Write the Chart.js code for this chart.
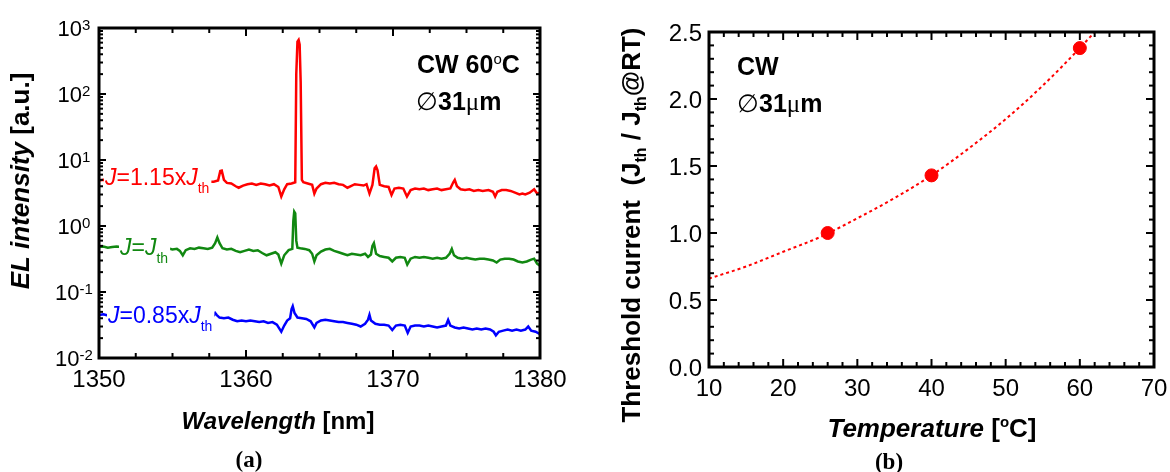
<!DOCTYPE html>
<html>
<head>
<meta charset="utf-8">
<script src="https://cdn.jsdelivr.net/npm/chart.js@4"></script>
<style>
  html, body { margin: 0; padding: 0; background: #fff; }
  #wrap { position: relative; width: 1170px; height: 472px; overflow: hidden; }
  canvas { position: absolute; top: 0; }
  #chartA { left: 0; }
  #chartB { left: 585px; }
</style>
</head>
<body>
<div id="wrap">
  <canvas id="chartA" width="585" height="472"></canvas>
  <canvas id="chartB" width="585" height="472"></canvas>
</div>
<script>
// ---- panel (a): EL spectra, [wavelength nm, intensity a.u.] ----
const redSpectrum = [
  [1350.0,4.9],[1350.3,5.0],[1350.6,4.8],[1351,4.8],[1352,4.9],[1353,4.7],[1354,4.8],[1355,4.7],[1356,4.8],[1357,4.7],
  [1357.8,4.7],[1358.1,4.9],[1358.25,6.8],[1358.35,6.9],[1358.5,5.0],[1358.7,4.5],[1359.0,4.4],[1359.3,4.0],[1359.5,3.8],
  [1359.8,4.1],[1360.1,4.3],[1360.4,4.4],[1360.7,4.2],[1361.0,4.4],[1361.3,4.3],[1361.6,4.1],[1361.9,4.3],[1362.2,3.9],
  [1362.4,2.8],[1362.6,3.6],[1362.8,4.3],[1363.1,4.4],[1363.35,4.6],[1363.42,200],[1363.5,620],[1363.58,660],[1363.65,560],
  [1363.72,150],[1363.8,5.0],[1363.9,4.6],[1364.2,4.4],[1364.5,4.2],[1364.65,3.1],[1364.8,3.7],[1365.1,4.3],[1365.4,4.5],
  [1365.7,4.4],[1366.0,4.5],[1366.3,4.3],[1366.6,4.2],[1366.9,3.8],[1367.1,4.0],[1367.4,4.3],[1367.7,4.2],[1368.0,4.1],
  [1368.2,4.3],[1368.4,3.1],[1368.6,4.2],[1368.75,7.5],[1368.85,8.0],[1368.95,7.0],[1369.1,4.2],[1369.4,4.0],[1369.7,3.9],
  [1369.9,2.95],[1370.1,3.7],[1370.4,3.8],[1370.7,3.7],[1370.95,2.8],[1371.2,3.5],[1371.5,3.7],[1371.8,3.6],[1372.1,3.7],
  [1372.4,3.5],[1372.7,3.6],[1373.0,3.7],[1373.3,3.5],[1373.6,3.6],[1373.9,3.7],[1374.1,4.6],[1374.2,5.0],[1374.35,4.0],
  [1374.6,3.6],[1374.9,3.5],[1375.2,3.6],[1375.5,3.4],[1375.8,3.5],[1376.1,3.4],[1376.5,3.5],[1376.8,3.3],[1376.95,2.8],
  [1377.1,3.3],[1377.4,3.5],[1377.7,3.5],[1378.0,3.4],[1378.3,3.2],[1378.6,3.0],[1378.8,3.1],[1379.0,3.0],[1379.3,3.2],
  [1379.6,3.6],[1379.8,3.1],[1380.0,3.2]
];
const greenSpectrum = [
  [1350.0,0.48],[1350.3,0.49],[1350.6,0.47],[1350.9,0.48],[1351.2,0.49],[1352,0.47],[1353,0.48],[1354.0,0.46],[1354.4,0.45],
  [1354.7,0.46],[1355.0,0.44],[1355.3,0.45],[1355.5,0.42],[1355.7,0.36],[1355.9,0.43],[1356.2,0.46],[1356.5,0.45],[1356.8,0.47],
  [1357.1,0.46],[1357.4,0.45],[1357.7,0.47],[1357.9,0.55],[1358.05,0.67],[1358.2,0.55],[1358.4,0.46],[1358.7,0.44],[1359.0,0.45],
  [1359.3,0.42],[1359.6,0.40],[1359.9,0.42],[1360.2,0.44],[1360.5,0.42],[1360.8,0.43],[1361.1,0.39],[1361.4,0.36],[1361.7,0.38],
  [1362.0,0.40],[1362.2,0.37],[1362.4,0.27],[1362.6,0.36],[1362.9,0.43],[1363.15,0.45],[1363.22,1.2],[1363.28,1.65],[1363.35,1.55],
  [1363.42,0.6],[1363.5,0.47],[1363.7,0.46],[1364.0,0.45],[1364.3,0.43],[1364.5,0.38],[1364.65,0.29],[1364.8,0.36],[1365.1,0.41],
  [1365.4,0.44],[1365.7,0.45],[1366.0,0.42],[1366.3,0.40],[1366.6,0.38],[1366.9,0.36],[1367.2,0.38],[1367.5,0.37],[1367.8,0.36],
  [1368.1,0.38],[1368.3,0.34],[1368.5,0.37],[1368.6,0.50],[1368.7,0.55],[1368.85,0.38],[1369.1,0.35],[1369.4,0.34],[1369.7,0.33],
  [1369.95,0.29],[1370.2,0.33],[1370.5,0.34],[1370.8,0.33],[1370.97,0.26],[1371.2,0.32],[1371.5,0.34],[1371.8,0.33],[1372.1,0.34],
  [1372.4,0.33],[1372.7,0.32],[1373.0,0.33],[1373.3,0.32],[1373.6,0.33],[1373.85,0.38],[1374.0,0.45],[1374.15,0.36],[1374.4,0.33],
  [1374.7,0.32],[1375.0,0.33],[1375.3,0.32],[1375.6,0.31],[1375.9,0.32],[1376.2,0.32],[1376.5,0.31],[1376.8,0.30],[1377.05,0.28],
  [1377.3,0.31],[1377.6,0.32],[1377.9,0.32],[1378.2,0.31],[1378.5,0.29],[1378.8,0.28],[1379.1,0.29],[1379.4,0.31],[1379.6,0.32],
  [1379.8,0.27],[1380.0,0.25]
];
const blueSpectrum = [
  [1350.0,0.045],[1350.3,0.046],[1350.6,0.044],[1352,0.044],[1354,0.043],[1356,0.043],[1357.6,0.042],[1357.8,0.044],[1357.9,0.048],
  [1358.0,0.045],[1358.2,0.041],[1358.5,0.040],[1358.8,0.041],[1359.1,0.038],[1359.4,0.036],[1359.7,0.037],[1360.0,0.036],
  [1360.3,0.037],[1360.6,0.036],[1360.9,0.035],[1361.2,0.036],[1361.5,0.034],[1361.8,0.035],[1362.1,0.032],[1362.4,0.025],
  [1362.6,0.031],[1362.8,0.037],[1363.0,0.040],[1363.1,0.055],[1363.18,0.061],[1363.3,0.048],[1363.5,0.041],[1363.8,0.040],
  [1364.1,0.039],[1364.4,0.036],[1364.65,0.029],[1364.8,0.034],[1365.1,0.037],[1365.4,0.038],[1365.7,0.037],[1366.0,0.036],
  [1366.3,0.035],[1366.6,0.035],[1366.9,0.034],[1367.2,0.033],[1367.5,0.032],[1367.8,0.030],[1368.1,0.033],[1368.3,0.038],
  [1368.4,0.045],[1368.5,0.037],[1368.8,0.033],[1369.1,0.032],[1369.4,0.032],[1369.7,0.031],[1369.95,0.0265],[1370.2,0.031],
  [1370.5,0.032],[1370.8,0.031],[1371.0,0.024],[1371.2,0.030],[1371.5,0.031],[1371.8,0.031],[1372.1,0.030],[1372.4,0.031],
  [1372.7,0.030],[1373.0,0.029],[1373.3,0.030],[1373.6,0.031],[1373.75,0.0377],[1373.9,0.031],[1374.2,0.029],[1374.5,0.028],
  [1374.8,0.029],[1375.1,0.028],[1375.4,0.027],[1375.7,0.028],[1376.0,0.027],[1376.3,0.028],[1376.6,0.027],[1376.85,0.025],
  [1377.0,0.022],[1377.2,0.025],[1377.5,0.026],[1377.8,0.027],[1378.1,0.026],[1378.4,0.027],[1378.7,0.026],[1379.0,0.027],
  [1379.2,0.030],[1379.4,0.026],[1379.7,0.025],[1380.0,0.023]
];
const wlTicks = [1350, 1360, 1370, 1380];
const decadeExps = [-2, -1, 0, 1, 2, 3];

// ---- panel (b): threshold current vs temperature ----
const tempC = [26, 40, 60];
const jthRatio = [1.00, 1.43, 2.38];
// dotted fit curve
const fitT = [10, 15, 20, 25, 30, 35, 40, 45, 50, 55, 60, 62];
const fitJ = [0.66, 0.75, 0.86, 0.97, 1.11, 1.26, 1.43, 1.63, 1.85, 2.10, 2.38, 2.50];
const tempTicks = [10, 20, 30, 40, 50, 60, 70];
const ratioTicks = ['0.0', '0.5', '1.0', '1.5', '2.0', '2.5'];

const SANS = '"Liberation Sans", Arial, Helvetica, sans-serif';
const SERIF = '"Liberation Serif", "Times New Roman", serif';

function pairsToPts(pairs) { return pairs.map(p => ({ x: p[0], y: p[1] })); }
function zipPts(xs, ys) { return xs.map((v, i) => ({ x: v, y: ys[i] })); }

// draws a run of text pieces with their own fonts / offsets
function richWidth(ctx, segs) {
  let w = 0;
  segs.forEach(s => { ctx.font = s.font; w += ctx.measureText(s.t).width; });
  return w;
}
function drawRich(ctx, segs, x, y, align, color) {
  const w = richWidth(ctx, segs);
  let cx = align === 'center' ? x - w / 2 : align === 'right' ? x - w : x;
  ctx.textAlign = 'left';
  ctx.textBaseline = 'alphabetic';
  segs.forEach(s => {
    ctx.font = s.font;
    ctx.fillStyle = s.color || color || '#000';
    ctx.fillText(s.t, cx, y + (s.dy || 0));
    cx += ctx.measureText(s.t).width;
  });
  return w;
}
function drawRotated(ctx, segs, x, y) {
  ctx.save();
  ctx.translate(x, y);
  ctx.rotate(-Math.PI / 2);
  drawRich(ctx, segs, 0, 0, 'center');
  ctx.restore();
}
function seg(t, font, dy, color) { return { t, font, dy, color }; }
function line(ctx, x1, y1, x2, y2) {
  ctx.beginPath(); ctx.moveTo(x1, y1); ctx.lineTo(x2, y2); ctx.stroke();
}

// ---- panel (a) decorations ----
const panelA = {
  id: 'panelA',
  afterDatasetsDraw(chart) {
    const { ctx, chartArea: a, scales: { x, y } } = chart;
    ctx.save();

    // curve labels sit on the traces with a white patch behind them
    const labels = [
      { x: 105, base: 185, color: '#ff0000', segs: [['J', 'italic'], ['=1.15x', ''], ['J', 'italic']] },
      { x: 120, base: 255, color: '#118811', segs: [['J', 'italic'], ['=', ''], ['J', 'italic']] },
      { x: 108, base: 323, color: '#0000ff', segs: [['J', 'italic'], ['=0.85x', ''], ['J', 'italic']] }
    ];
    labels.forEach(l => {
      const s = l.segs.map(p => seg(p[0], `${p[1]} 23px ${SANS}`));
      s.push(seg('th', `14px ${SANS}`, 8));
      const w = richWidth(ctx, s);
      ctx.fillStyle = '#fff';
      ctx.fillRect(l.x - 1, l.base - 20, w + 3, 31);
      drawRich(ctx, s, l.x, l.base, 'left', l.color);
    });

    // frame and inward ticks
    ctx.strokeStyle = '#000';
    ctx.lineWidth = 3;
    ctx.strokeRect(a.left, a.top, a.right - a.left, a.bottom - a.top);
    ctx.lineWidth = 2;
    for (let v = 1350; v <= 1380; v += 2.5) {
      const px = x.getPixelForValue(v);
      const len = v % 10 === 0 ? 8 : 5;
      line(ctx, px, a.bottom, px, a.bottom - len);
      line(ctx, px, a.top, px, a.top + len);
    }
    decadeExps.forEach(e => {
      for (let m = 1; m <= 9; m++) {
        if (e === 3 && m > 1) break;
        const py = y.getPixelForValue(m * Math.pow(10, e));
        const len = m === 1 ? 7 : 4;
        line(ctx, a.left, py, a.left + len, py);
        line(ctx, a.right, py, a.right - len, py);
      }
    });

    // tick labels
    ctx.fillStyle = '#000';
    ctx.font = `24px ${SANS}`;
    ctx.textAlign = 'center';
    ctx.textBaseline = 'alphabetic';
    wlTicks.forEach(v => ctx.fillText(String(v), x.getPixelForValue(v), 387));
    decadeExps.forEach(e => {
      const py = y.getPixelForValue(Math.pow(10, e));
      drawRich(ctx, [seg('10', `22px ${SANS}`, 0), seg(e < 0 ? '-' + (-e) : String(e), `15px ${SANS}`, -6.5)],
        74, py + 8, 'center');
    });

    // axis titles
    drawRich(ctx, [seg('Wavelength', `italic bold 24px ${SANS}`), seg(' [nm]', `bold 24px ${SANS}`)], 278, 429, 'center');
    drawRotated(ctx, [seg('EL intensity', `italic bold 26px ${SANS}`), seg(' [a.u.]', `bold 26px ${SANS}`)], 29, 181);
    drawRich(ctx, [seg('(a)', `bold 23px ${SERIF}`)], 249, 467, 'center');

    // condition notes
    drawRich(ctx, [seg('CW 60', `bold 25px ${SANS}`), seg('o', `15px ${SANS}`, -9), seg('C', `bold 25px ${SANS}`)], 417, 73, 'left');
    drawRich(ctx, [seg('\u2205', `25px ${SANS}`), seg('31', `bold 25px ${SANS}`), seg('\u03bc', `25px ${SERIF}`),
      seg('m', `bold 25px ${SANS}`)], 416, 110, 'left');
    ctx.restore();
  }
};

// ---- panel (b) decorations ----
const panelB = {
  id: 'panelB',
  afterDatasetsDraw(chart) {
    const { ctx, chartArea: a, scales: { x, y } } = chart;
    ctx.save();
    ctx.strokeStyle = '#000';
    ctx.lineWidth = 3;
    ctx.strokeRect(a.left, a.top, a.right - a.left, a.bottom - a.top);
    ctx.lineWidth = 2;
    for (let v = 10; v <= 70; v += 2) {
      const px = x.getPixelForValue(v);
      const len = v % 10 === 0 ? 8 : 5;
      line(ctx, px, a.bottom, px, a.bottom - len);
      line(ctx, px, a.top, px, a.top + len);
    }
    for (let i = 0; i <= 25; i++) {
      const py = y.getPixelForValue(i / 10);
      const len = i % 5 === 0 ? 8 : 5;
      line(ctx, a.left, py, a.left + len, py);
      line(ctx, a.right, py, a.right - len, py);
    }

    ctx.fillStyle = '#000';
    ctx.font = `24px ${SANS}`;
    ctx.textBaseline = 'alphabetic';
    ctx.textAlign = 'center';
    tempTicks.forEach(v => ctx.fillText(String(v), x.getPixelForValue(v), 396));
    ctx.textAlign = 'right';
    ratioTicks.forEach(t => ctx.fillText(t, 117, y.getPixelForValue(parseFloat(t)) + 8.5));

    drawRich(ctx, [seg('Temperature', `italic bold 26px ${SANS}`), seg(' [', `bold 26px ${SANS}`),
      seg('o', `bold 15px ${SANS}`, -10), seg('C]', `bold 26px ${SANS}`)], 347, 437, 'center');
    const big = `bold 26px ${SANS}`, sub = `bold 16px ${SANS}`;
    drawRotated(ctx, [seg('Threshold current  (J', big), seg('th', sub, 6), seg(' / J', big), seg('th', sub, 6),
      seg('@RT)', big)], 55, 225);
    drawRich(ctx, [seg('(b)', `bold 23px ${SERIF}`)], 304, 469, 'center');

    drawRich(ctx, [seg('CW', `bold 25px ${SANS}`)], 152, 75, 'left');
    drawRich(ctx, [seg('\u2205', `25px ${SANS}`), seg('31', `bold 25px ${SANS}`), seg('\u03bc', `25px ${SERIF}`),
      seg('m', `bold 25px ${SANS}`)], 152, 112, 'left');
    ctx.restore();
  }
};

const common = {
  responsive: false,
  animation: false,
  devicePixelRatio: 1,
  plugins: { legend: { display: false }, tooltip: { enabled: false } }
};

new Chart(document.getElementById('chartA'), {
  type: 'line',
  data: {
    datasets: [
      { data: pairsToPts(redSpectrum), borderColor: '#ff0000' },
      { data: pairsToPts(greenSpectrum), borderColor: '#118811' },
      { data: pairsToPts(blueSpectrum), borderColor: '#0000ff' }
    ]
  },
  options: {
    ...common,
    layout: { padding: { left: 99, top: 28, right: 45, bottom: 114 } },
    elements: { point: { radius: 0 }, line: { borderWidth: 2.5, tension: 0 } },
    scales: {
      x: { type: 'linear', min: 1350, max: 1380, display: false },
      y: { type: 'logarithmic', min: 0.01, max: 1000, display: false }
    }
  },
  plugins: [panelA]
});

new Chart(document.getElementById('chartB'), {
  type: 'line',
  data: {
    datasets: [
      { data: zipPts(tempC, jthRatio), showLine: false, pointRadius: 6.5, pointBackgroundColor: '#ff0000',
        pointBorderColor: '#ff0000', borderColor: '#ff0000' },
      { data: zipPts(fitT, fitJ), borderColor: '#ff0000', borderWidth: 2, borderDash: [3, 3], pointRadius: 0,
        cubicInterpolationMode: 'monotone' }
    ]
  },
  options: {
    ...common,
    layout: { padding: { left: 124, top: 32, right: 16, bottom: 105 } },
    scales: {
      x: { type: 'linear', min: 10, max: 70, display: false },
      y: { type: 'linear', min: 0, max: 2.5, display: false }
    }
  },
  plugins: [panelB]
});
</script>
</body>
</html>
